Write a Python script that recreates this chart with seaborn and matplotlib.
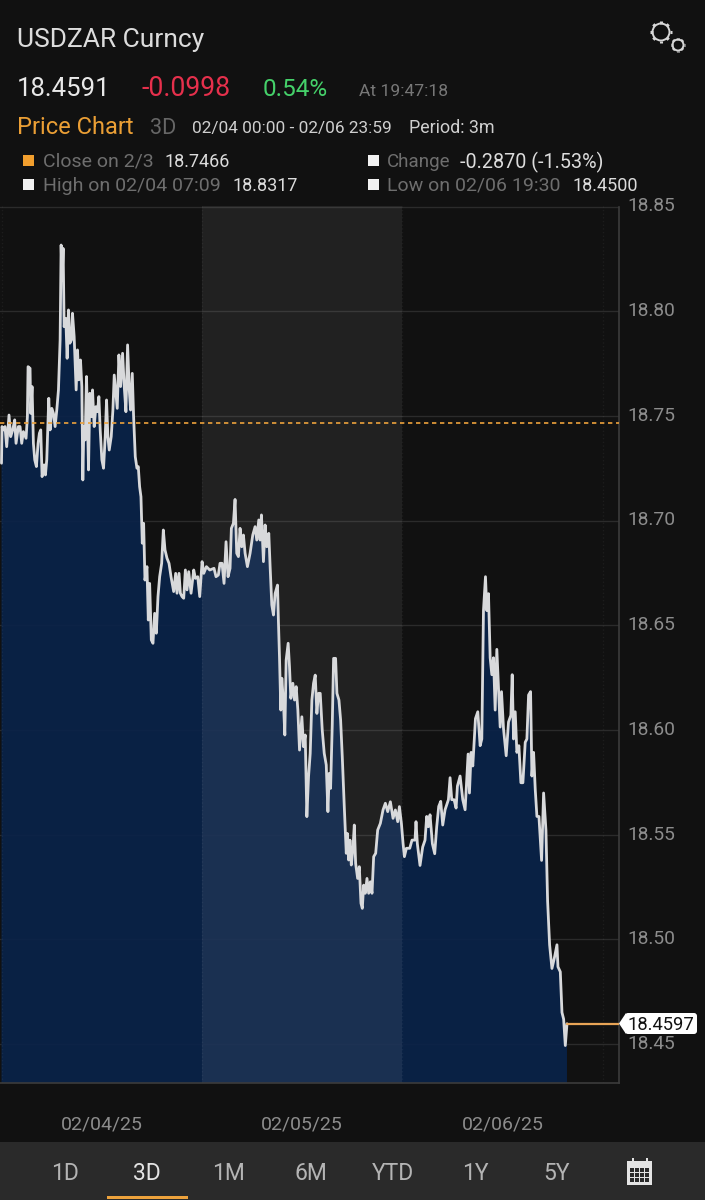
import numpy as np
import pandas as pd
import matplotlib
matplotlib.use("Agg")
import matplotlib.pyplot as plt
from matplotlib.patches import Circle, Rectangle, Polygon, FancyBboxPatch
from matplotlib.transforms import ScaledTranslation
import seaborn as sns

# ---- data ----
hours_day1 = [0.0,0.06,0.22,0.42,0.62,0.90,1.10,1.34,1.58,1.74,2.02,2.22,2.42,2.62,2.94,3.10,3.18,3.42,3.50,3.66,3.82,3.98,4.18,4.38,4.54,4.70,4.86,5.10,5.26,5.42,5.66,5.82,6.02,6.22,6.42,6.62,6.82,7.02,7.14,7.26,7.38,7.50,7.70,7.86,8.02,8.18,8.38,8.50,8.70,8.94,9.10,9.26,9.46,9.62,9.74,9.86,10.02,10.18,10.30,10.42,10.58,10.78,10.90,11.10,11.30,11.50,11.66,11.82,12.02,12.22,12.42,12.58,12.74,12.90,13.14,13.34,13.50,13.66,13.86,14.06,14.26,14.50,14.70,14.90,15.10,15.30,15.46,15.66,15.82,16.02,16.22,16.38,16.54,16.70,16.86,17.02,17.18,17.42,17.58,17.74,17.94,18.14,18.34,18.54,18.74,18.94,19.18,19.38,19.58,19.82,20.06,20.30,20.62,20.86,21.02,21.26,21.42,21.62,21.82,22.02,22.22,22.42,22.70,23.02,23.22,23.50,23.74,24.02,24.22,24.54,24.94]
price_day1 = [18.7274,18.7449,18.7433,18.7449,18.7353,18.7504,18.7401,18.7433,18.7481,18.7369,18.7449,18.7449,18.7369,18.7425,18.7393,18.7496,18.7735,18.7727,18.7512,18.7640,18.7369,18.7290,18.7258,18.7369,18.7417,18.7433,18.7210,18.7266,18.7218,18.7290,18.7584,18.7433,18.7536,18.7512,18.7449,18.7528,18.7624,18.7863,18.8316,18.8149,18.8300,18.7926,18.7966,18.7775,18.8006,18.7847,18.7863,18.7990,18.7879,18.7624,18.7815,18.7672,18.7767,18.7640,18.7194,18.7449,18.7385,18.7688,18.7481,18.7242,18.7608,18.7496,18.7624,18.7449,18.7544,18.7520,18.7592,18.7433,18.7290,18.7250,18.7401,18.7576,18.7401,18.7337,18.7401,18.7528,18.7695,18.7624,18.7536,18.7791,18.7640,18.7799,18.7640,18.7520,18.7839,18.7624,18.7528,18.7703,18.7496,18.7305,18.7250,18.7258,18.7162,18.7114,18.6892,18.6987,18.6716,18.6780,18.6525,18.6700,18.6430,18.6414,18.6557,18.6462,18.6637,18.6732,18.6796,18.6955,18.6860,18.6820,18.6796,18.6732,18.6661,18.6748,18.6653,18.6748,18.6653,18.6637,18.6629,18.6764,18.6669,18.6756,18.6653,18.6764,18.6724,18.6732,18.6637,18.6804,18.6748,18.6780,18.6764]
hours_day2 = [25.45,25.69,25.97,26.17,26.41,26.65,26.89,27.13,27.37,27.53,27.77,27.97,28.17,28.37,28.57,28.77,28.97,29.17,29.45,29.77,30.09,30.37,30.57,30.81,30.97,31.13,31.37,31.57,31.77,32.01,32.17,32.37,32.57,32.77,33.05,33.17,33.29,33.45,33.57,33.77,33.93,34.09,34.33,34.49,34.65,34.89,35.09,35.29,35.49,35.69,35.97,36.17,36.37,36.57,36.77,36.97,37.17,37.37,37.57,37.77,37.97,38.17,38.41,38.65,38.89,39.09,39.25,39.41,39.61,39.77,40.01,40.17,40.41,40.61,40.81,41.05,41.29,41.41,41.57,41.73,41.89,42.09,42.25,42.41,42.65,42.85,43.05,43.21,43.37,43.57,43.77,43.97,44.17,44.37,44.57,44.81,45.05,45.37,45.69,45.97,46.25,46.57,46.89,47.17,47.45,47.65,47.89,48.09,48.25,48.49,48.89]
price_day2 = [18.6772,18.6732,18.6740,18.6796,18.6796,18.6700,18.6899,18.6732,18.6772,18.6963,18.6987,18.7101,18.6844,18.6828,18.6963,18.6875,18.6931,18.6844,18.6780,18.6844,18.6931,18.6971,18.6907,18.7003,18.6907,18.7027,18.6804,18.6979,18.6875,18.6939,18.6780,18.6597,18.6549,18.6652,18.6692,18.6509,18.6350,18.6095,18.6247,18.6127,18.5976,18.6334,18.6414,18.6302,18.6151,18.6223,18.6143,18.6207,18.6095,18.5904,18.6063,18.5920,18.5976,18.5586,18.5777,18.5888,18.6143,18.6223,18.6262,18.6079,18.6175,18.6175,18.6000,18.5888,18.5833,18.5610,18.5793,18.5721,18.6024,18.6342,18.6342,18.6175,18.6143,18.6048,18.5872,18.5634,18.5411,18.5506,18.5379,18.5474,18.5355,18.5435,18.5546,18.5363,18.5291,18.5347,18.5172,18.5148,18.5259,18.5220,18.5291,18.5220,18.5275,18.5220,18.5395,18.5411,18.5522,18.5554,18.5618,18.5650,18.5610,18.5657,18.5578,18.5618,18.5562,18.5634,18.5554,18.5458,18.5395,18.5435,18.5435]
hours_day3 = [49.16,49.52,49.64,49.80,50.12,50.44,50.72,50.92,51.12,51.32,51.60,51.88,52.12,52.36,52.60,52.84,53.12,53.52,53.72,53.92,54.20,54.44,54.60,54.92,55.24,55.52,55.72,55.88,56.04,56.24,56.44,56.76,57.04,57.32,57.52,57.72,57.96,58.12,58.32,58.52,58.72,58.92,59.12,59.32,59.56,59.72,59.88,60.12,60.44,60.72,61.00,61.16,61.32,61.52,61.72,61.96,62.20,62.44,62.72,62.92,63.12,63.36,63.52,63.72,63.92,64.12,64.36,64.68,64.92,65.20,65.40,65.64,65.92,66.20,66.52,66.64,66.92,67.12,67.32,67.52,67.72]
price_day3 = [18.5474,18.5474,18.5562,18.5457,18.5353,18.5441,18.5474,18.5587,18.5538,18.5595,18.5457,18.5409,18.5538,18.5635,18.5659,18.5546,18.5619,18.5667,18.5772,18.5667,18.5667,18.5627,18.5732,18.5780,18.5667,18.5619,18.5764,18.5885,18.5699,18.5893,18.5828,18.6054,18.6087,18.5925,18.5957,18.6570,18.6732,18.6570,18.6651,18.6345,18.6264,18.6345,18.6095,18.6385,18.6167,18.6014,18.6183,18.6006,18.5877,18.6038,18.6070,18.6264,18.5957,18.6087,18.5893,18.5925,18.5748,18.5748,18.5941,18.5957,18.6167,18.6183,18.5780,18.5893,18.5716,18.5587,18.5587,18.5377,18.5699,18.5522,18.5183,18.4974,18.4861,18.4909,18.4974,18.4869,18.4845,18.4651,18.4619,18.4493,18.4597]
prev_close = 18.7466
last_price = 18.4597
y_ticks = [18.45, 18.50, 18.55, 18.60, 18.65, 18.70, 18.75, 18.80, 18.85]
x_ticks = [12, 36, 60]
x_labels = ["02/04/25", "02/05/25", "02/06/25"]
periods = ["1D", "3D", "1M", "6M", "YTD", "1Y", "5Y"]

df = pd.DataFrame({"hour": hours_day1 + hours_day2 + hours_day3,
                   "price": price_day1 + price_day2 + price_day3})

BG = "#111111"
sns.set_theme(style="dark")
plt.rcParams["font.family"] = ["Roboto", "DejaVu Sans"]

W, H = 705, 1200
fig = plt.figure(figsize=(W / 100, H / 100), dpi=100, facecolor=BG)

# main plot: pixel box x 0-619, y 206.5-1083
ax = fig.add_axes([0, 1 - 1083 / H, 619 / W, (1083 - 206.5) / H], facecolor=BG)
for y in y_ticks:
    ax.axhline(y, color="#ffffff", alpha=0.11, lw=1, zorder=0.5)
ax.fill_between(df["hour"], df["price"], 18.0, color="#09234a", alpha=0.9, lw=0, zorder=1)
ax.axvspan(24, 48, color="#ffffff", alpha=0.07, lw=0, zorder=2)
for xv in [0, 24, 48, 72]:
    ax.axvline(xv, color="#ffffff", alpha=0.05, lw=1, ls=":", zorder=2)
sns.lineplot(data=df, x="hour", y="price", estimator=None, sort=False,
             color="#d8d9db", lw=2.0, ax=ax, zorder=4, errorbar=None)
ax.axhline(prev_close, color="#eda23c", lw=1.2, ls=(0, (2.6, 2.2)), zorder=5)
ax.plot([df["hour"].iloc[-1], 74], [last_price] * 2, color="#e8a456", lw=1.6, zorder=5)

ax.set_xlim(-0.18, 73.95)
ax.set_ylim(18.4314, 18.85)
ax.set_xlabel("")
ax.set_ylabel("")
ax.grid(False)
ax.yaxis.tick_right()
ax.set_yticks(y_ticks)
ax.set_yticklabels([f"{v:.2f}" for v in y_ticks], color="#8c8c8c", fontsize=13.8)
ax.set_xticks(x_ticks)
ax.set_xticklabels(x_labels, color="#8c8c8c", fontsize=14)
ax.tick_params(axis="y", length=0, pad=6)
ax.tick_params(axis="x", length=0, pad=23.5)
up = ScaledTranslation(0, 1.5 / 72, fig.dpi_scale_trans)
for lab in ax.get_yticklabels():
    lab.set_transform(lab.get_transform() + up)
for s in ["top", "left"]:
    ax.spines[s].set_visible(False)
for s in ["right", "bottom"]:
    ax.spines[s].set_color("#3c3c3c")
    ax.spines[s].set_linewidth(1.2)

# interface furniture, on an overlay in pixel units
ui = fig.add_axes([0, 0, 1, 1], facecolor="none", zorder=10)
ui.set_xlim(0, W)
ui.set_ylim(H, 0)
ui.axis("off")

def t(x, y, s, color, size, **kw):
    ui.text(x, y + 2, s, color=color, fontsize=size, va="center", ha=kw.pop("ha", "left"), **kw)

t(17, 38, "USDZAR Curncy", "#dcdcdc", 19)
t(17, 87, "18.4591", "#e8e8e8", 18.5)
t(142, 87, "-0.0998", "#e6304c", 19.2)
t(263, 87, "0.54%", "#45d16a", 17.5)
t(359, 90, "At 19:47:18", "#777777", 12.6)
t(17, 126, "Price Chart", "#eb9f35", 17)
t(150, 126, "3D", "#666666", 15.5)
t(192, 126, "02/04 00:00 - 02/06 23:59", "#cfcfcf", 12.4)
t(409, 126, "Period: 3m", "#cfcfcf", 12.9)

rows = [(160, 23, "#f29f2e", "Close on 2/3", 43, 14, "18.7466", 164, 13),
        (184, 23, "#f2f2f2", "High on 02/04 07:09", 43, 14, "18.8317", 232, 13),
        (160, 368, "#f2f2f2", "Change", 387, 13.5, "-0.2870 (-1.53%)", 460, 14.2),
        (184, 368, "#f2f2f2", "Low on 02/06 19:30", 387, 14, "18.4500", 572, 13)]
for yy, sx, col, lab, lx, ls_, val, vx, vs in rows:
    ui.add_patch(Rectangle((sx, yy - 5.5), 11, 11, color=col, lw=0))
    t(lx, yy, lab, "#6e6e6e", ls_)
    t(vx, yy, val, "#dcdcdc", vs)

# gear icons
def gear(cx, cy, r, teeth=8):
    ui.add_patch(Circle((cx, cy), r, fill=False, ec="#d8d8d8", lw=1.4))
    for a in np.linspace(0, 2 * np.pi, teeth, endpoint=False):
        ui.plot([cx + r * np.cos(a), cx + (r + r * 0.28) * np.cos(a)],
                [cy + r * np.sin(a), cy + (r + r * 0.28) * np.sin(a)],
                color="#d8d8d8", lw=2.2, solid_capstyle="butt")

gear(661, 32, 8.5)
gear(678, 45, 5.5)

# last price flag
ui.add_patch(FancyBboxPatch((625, 1013), 72, 21, boxstyle="round,pad=0,rounding_size=3",
                            fc="#ffffff", ec="none"))
ui.add_patch(Polygon([[619, 1023.5], [626, 1013], [626, 1034]], fc="#ffffff", ec="none"))
t(661, 1022.5, f"{last_price:.4f}", "#111111", 13.2, ha="center")

# bottom bar
ui.add_patch(Rectangle((0, 1142), W, 58, color="#2a2a2a", lw=0))
for lab, x in zip(periods, [65, 147, 229, 311, 393, 475, 557]):
    t(x, 1171, lab, "#e4e4e4" if lab == "3D" else "#b4b4b4", 16.5, ha="center")
ui.add_patch(Rectangle((107, 1196), 81, 2.5, color="#eda23c", lw=0))
# calendar icon
ui.add_patch(Rectangle((627, 1161), 25, 24, color="#e4e4e4", lw=0))
for x in [632, 646]:
    ui.add_patch(Rectangle((x, 1158), 2, 4, color="#e4e4e4", lw=0))
for r_ in range(3):
    for c_ in range(4):
        ui.add_patch(Rectangle((630 + c_ * 5, 1168 + r_ * 5), 3.6, 3.6, color="#2a2a2a", lw=0))

fig.savefig("out.png", dpi=100, facecolor=BG)
